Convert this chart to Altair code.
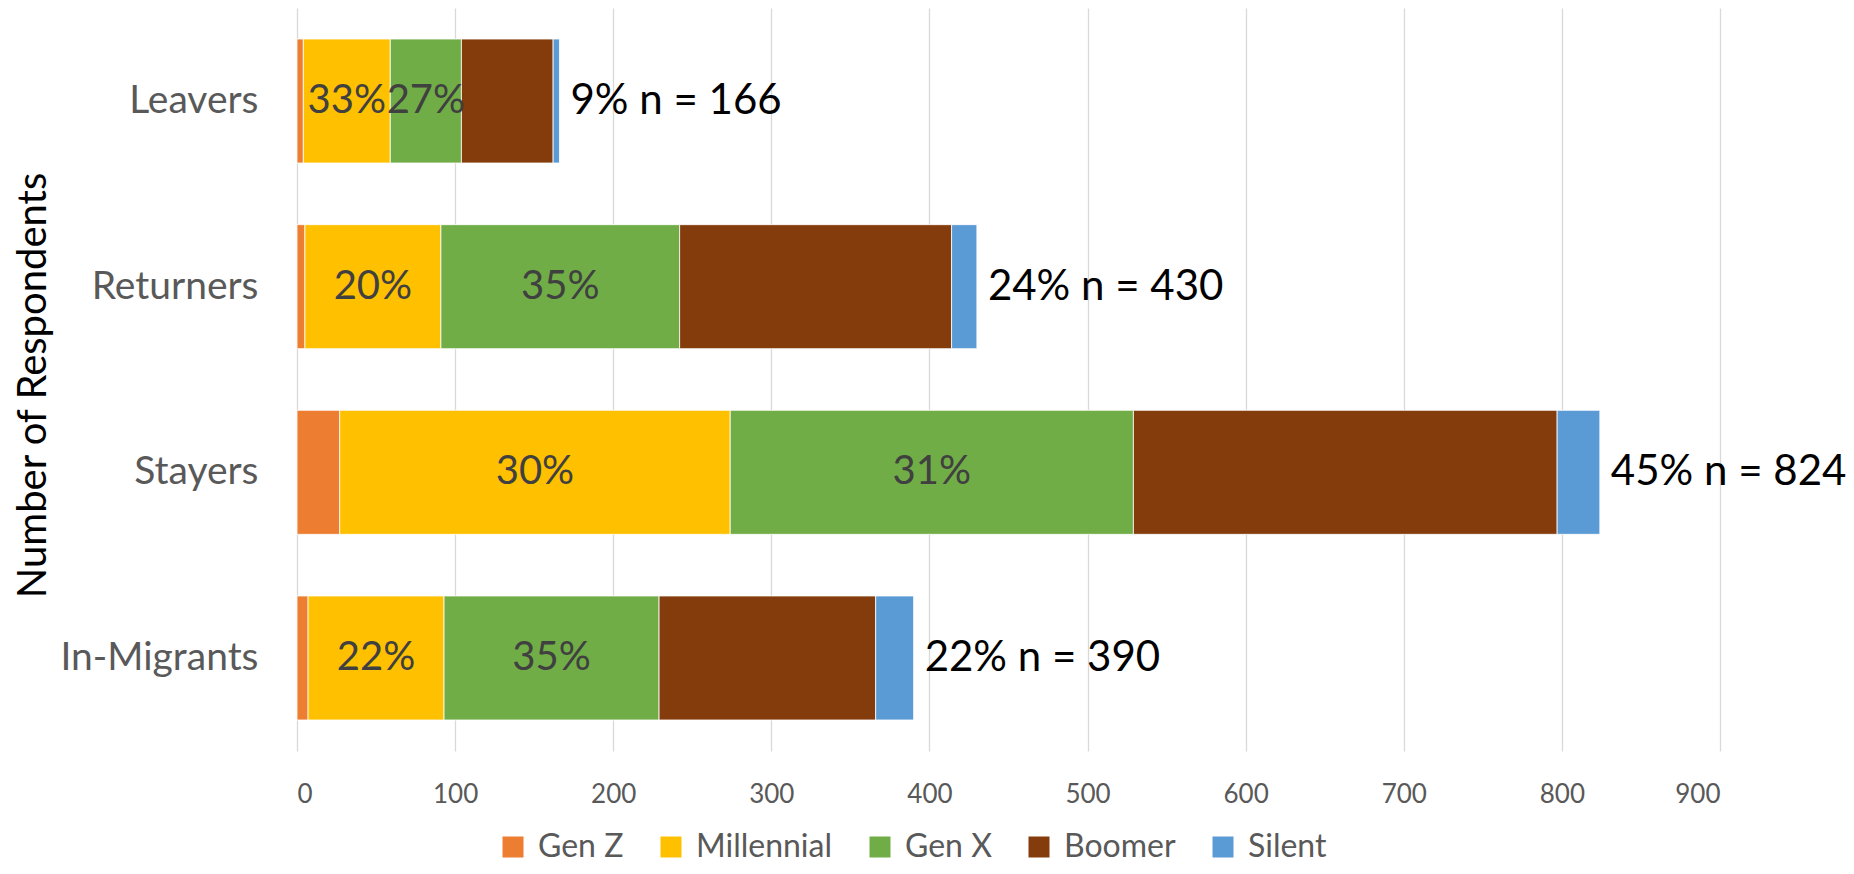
import altair as alt
import pandas as pd

categories = ["Leavers", "Returners", "Stayers", "In-Migrants"]
generations = ["Gen Z", "Millennial", "Gen X", "Boomer", "Silent"]
gen_colors = ["#ED7D31", "#FFC000", "#70AD47", "#843C0C", "#5B9BD5"]

gen_z      = [4, 5, 27, 7]
millennial = [55, 86, 247, 86]
gen_x      = [45, 151, 255, 136]
boomer     = [58, 172, 268, 137]
silent     = [4, 16, 27, 24]

millennial_pct = ["33%", "20%", "30%", "22%"]
gen_x_pct      = ["27%", "35%", "31%", "35%"]
share_pct      = ["9%", "24%", "45%", "22%"]
x_ticks = [0, 100, 200, 300, 400, 500, 600, 700, 800, 900]

series = [gen_z, millennial, gen_x, boomer, silent]
rows = []
for ci, cat in enumerate(categories):
    cum = 0
    for gi, gen in enumerate(generations):
        v = series[gi][ci]
        label = ""
        if gen == "Millennial":
            label = millennial_pct[ci]
        elif gen == "Gen X":
            label = gen_x_pct[ci]
        rows.append({"cat": cat, "gen": gen, "order": gi, "value": v,
                     "mid": cum + v / 2, "label": label})
        cum += v
df = pd.DataFrame(rows)

tot_rows = []
for ci, cat in enumerate(categories):
    total = sum(s[ci] for s in series)
    tot_rows.append({"cat": cat, "total": total,
                     "text": f"{share_pct[ci]} n = {total}"})
tot = pd.DataFrame(tot_rows)

FONT = "Lato"

y_enc = alt.Y("cat:N", sort=categories,
              scale=alt.Scale(paddingInner=0.332, paddingOuter=0.167),
              axis=alt.Axis(title="Number of Respondents", titleFont=FONT,
                            titleFontSize=40, titleFontWeight="normal",
                            titleColor="#000000", titleAngle=270,
                            titleX=-264, titleY=377, titleAlign="center",
                            titleBaseline="middle",
                            labelFont=FONT, labelFontSize=39,
                            labelColor="#595959", labelPadding=39,
                            labelLimit=400, ticks=False, domain=False,
                            grid=False))

x_scale = alt.Scale(domain=[0, 900], nice=False)

bars = alt.Chart(df).mark_bar(stroke="#FFFFFF", strokeWidth=0.8).encode(
    x=alt.X("value:Q", stack="zero", scale=x_scale,
            axis=alt.Axis(values=x_ticks, title=None, labelFont=FONT,
                          labelFontSize=26, labelColor="#595959",
                          labelPadding=30, ticks=False, domain=False,
                          grid=True, gridColor="#D9D9D9", gridWidth=1.3)),
    y=y_enc,
    color=alt.Color("gen:N", sort=generations,
                    scale=alt.Scale(domain=generations, range=gen_colors),
                    legend=alt.Legend(title=None, orient="none",
                                      direction="horizontal", columns=5,
                                      legendX=200, legendY=823, padding=0,
                                      symbolType="square", symbolSize=441,
                                      symbolStrokeWidth=0, labelFont=FONT,
                                      labelFontSize=32, labelColor="#595959",
                                      labelOffset=9, columnPadding=31)),
    order=alt.Order("order:Q", sort="ascending"),
)

pct = alt.Chart(df).mark_text(font=FONT, fontSize=40, color="#404040",
                              align="center", baseline="middle").encode(
    x=alt.X("mid:Q", scale=x_scale),
    y=alt.Y("cat:N", sort=categories),
    text="label:N",
)

nlab = alt.Chart(tot).mark_text(font=FONT, fontSize=42, color="#000000",
                                align="left", baseline="middle", dx=11).encode(
    x=alt.X("total:Q", scale=x_scale),
    y=alt.Y("cat:N", sort=categories),
    text="text:N",
)

chart = alt.layer(bars, pct, nlab).properties(
    width=1423, height=743,
    autosize=alt.AutoSizeParams(type="none"),
    padding={"left": 289, "top": 0, "right": 126, "bottom": 115},
).configure_view(stroke=None)

chart.save("out.html", embed_options={"renderer": "svg", "actions": False})
